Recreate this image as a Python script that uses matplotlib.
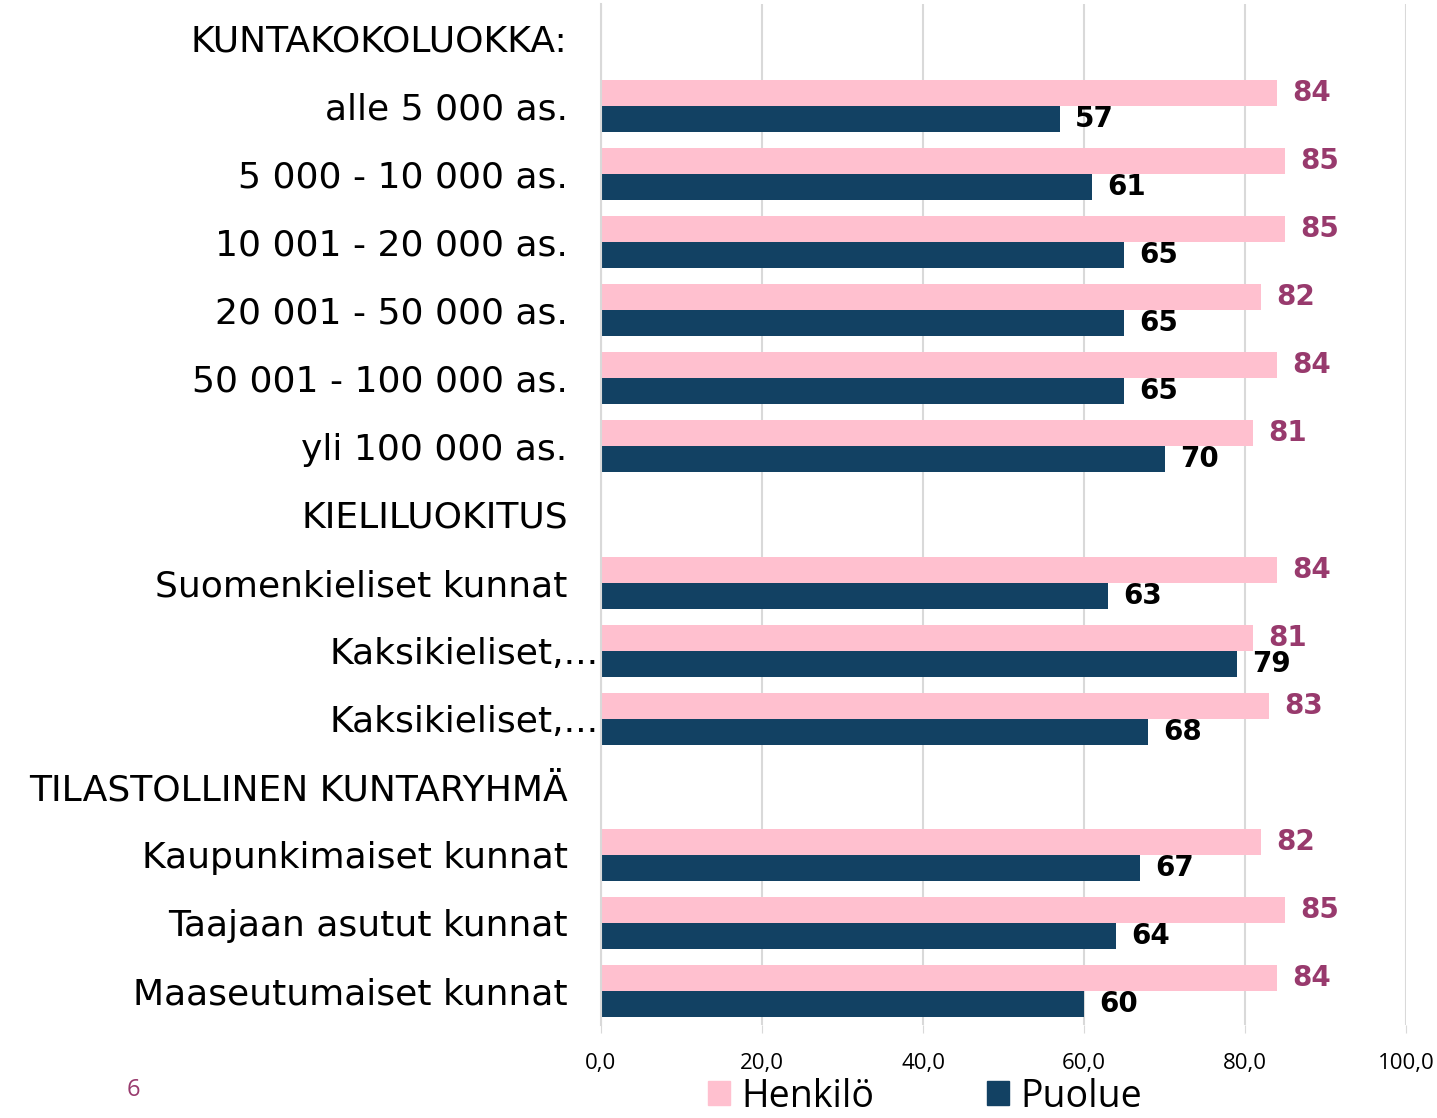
import numpy as np
import matplotlib
matplotlib.use("Agg")
import matplotlib.pyplot as plt
import matplotlib.transforms as mtransforms
from matplotlib.patches import Patch

plt.rcParams['font.family'] = ['Open Sans', 'DejaVu Sans']

# data (header rows have no values)
categories = ['KUNTAKOKOLUOKKA:', 'alle 5 000 as.', '5 000 - 10 000 as.', '10 001 - 20 000 as.',
              '20 001 - 50 000 as.', '50 001 - 100 000 as.', 'yli 100 000 as.',
              'KIELILUOKITUS', 'Suomenkieliset kunnat', 'Kaksikieliset,...', 'Kaksikieliset,...',
              'TILASTOLLINEN KUNTARYHMÄ', 'Kaupunkimaiset kunnat', 'Taajaan asutut kunnat',
              'Maaseutumaiset kunnat']
henkilo = [None, 84, 85, 85, 82, 84, 81, None, 84, 81, 83, None, 82, 85, 84]
puolue = [None, 57, 61, 65, 65, 65, 70, None, 63, 79, 68, None, 67, 64, 60]
xticks = [0, 20, 40, 60, 80, 100]

PINK = '#FFC0CF'
NAVY = '#124163'
PLUM = '#983A6D'

fig = plt.figure(figsize=(14.37, 11.18), dpi=100)
ax = fig.add_axes([601 / 1437, 1 - 1025 / 1118, 805 / 1437, 1021 / 1118])

y = np.arange(len(categories))
h = 0.382
for i, (a, b) in enumerate(zip(henkilo, puolue)):
    if a is None:
        continue
    ax.barh(i - h / 2, a, height=h, color=PINK)
    ax.barh(i + h / 2, b, height=h, color=NAVY)
    ax.annotate(f'{a}', (a, i - h / 2), xytext=(11, 0), textcoords='offset points',
                va='center', ha='left', fontsize=20, fontweight='bold', color=PLUM,
                family=['DejaVu Sans'])
    ax.annotate(f'{b}', (b, i + h / 2), xytext=(11, 0), textcoords='offset points',
                va='center', ha='left', fontsize=20, fontweight='bold', color='black',
                family=['DejaVu Sans'])

ax.set_xlim(0, 100)
ax.set_ylim(len(categories) - 0.5, -0.5)
ax.set_yticks(y)
ax.set_yticklabels(categories, fontsize=26, family=['DejaVu Sans'])
ax.tick_params(axis='y', length=0, pad=24)
ax.set_xticks(xticks)
ax.set_xticklabels([f'{t:.1f}'.replace('.', ',') for t in xticks], fontsize=16)
ax.tick_params(axis='x', length=6, color='#d9d9d9', pad=14)
ax.grid(axis='x', color='#d9d9d9', linewidth=1.5)
ax.set_axisbelow(True)
for s in ['top', 'right', 'bottom']:
    ax.spines[s].set_visible(False)
ax.spines['left'].set_color('#d9d9d9')
ax.spines['left'].set_linewidth(1.5)

# the truncated labels sit further right in the original
shift = mtransforms.ScaledTranslation(31 / 100, 0, fig.dpi_scale_trans)
for idx, lab in enumerate(ax.get_yticklabels()):
    if categories[idx].endswith('...'):
        lab.set_transform(lab.get_transform() + shift)

handles = [Patch(color=PINK, label='Henkilö'), Patch(color=NAVY, label='Puolue')]
fig.legend(handles=handles, loc='lower center', bbox_to_anchor=(925 / 1437, -0.028), ncol=2,
           frameon=False, fontsize=27, handlelength=0.6, handleheight=0.6,
           handletextpad=0.3, columnspacing=3.0)

fig.text(133 / 1437, 1 - 1090 / 1118, '6', color=PLUM, fontsize=17, ha='center', va='center')

fig.savefig('out.png', dpi=100)
